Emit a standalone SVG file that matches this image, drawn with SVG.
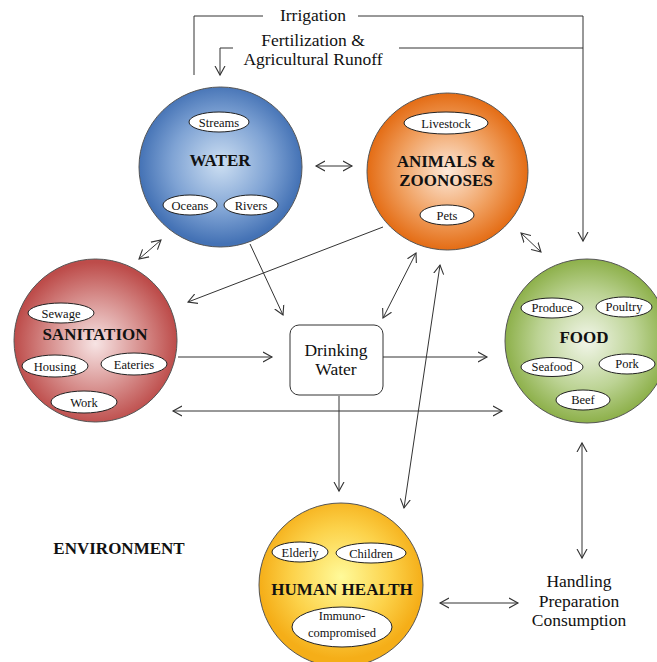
<svg xmlns="http://www.w3.org/2000/svg" width="657" height="662" viewBox="0 0 657 662">
<style>
.t{font-family:"Liberation Serif","Times New Roman",serif;fill:#111;text-anchor:middle}
.big{font-size:17.5px}
.title{font-size:17px;font-weight:bold}
.lab{font-size:12.5px}
.sub{fill:#fff;stroke:#222;stroke-width:1}
.ball{stroke:#555;stroke-width:1}
.c{fill:none;stroke:#333;stroke-width:1}
</style>
<defs>
<marker id="ah" markerUnits="userSpaceOnUse" markerWidth="12" markerHeight="12" refX="9" refY="5" orient="auto-start-reverse" viewBox="0 0 12 10">
<path d="M0,0 L9,5 L0,10" fill="none" stroke="#333" stroke-width="1.1"/>
</marker>
<radialGradient id="gWater" cx="50%" cy="48%" r="50%"><stop offset="0" stop-color="#cddff2"/><stop offset="0.6" stop-color="#7fa3d4"/><stop offset="1" stop-color="#4472b5"/></radialGradient>
<radialGradient id="gAnimal" cx="50%" cy="50%" r="50%"><stop offset="0" stop-color="#fde9da"/><stop offset="0.6" stop-color="#f0a060"/><stop offset="1" stop-color="#e46c14"/></radialGradient>
<radialGradient id="gSan" cx="50%" cy="52%" r="50%"><stop offset="0" stop-color="#f7e4e4"/><stop offset="0.6" stop-color="#d58a88"/><stop offset="1" stop-color="#bd4c4a"/></radialGradient>
<radialGradient id="gFood" cx="50%" cy="50%" r="50%"><stop offset="0" stop-color="#f2f6ea"/><stop offset="0.6" stop-color="#bcd394"/><stop offset="1" stop-color="#8db04a"/></radialGradient>
<radialGradient id="gHealth" cx="50%" cy="45%" r="50%"><stop offset="0" stop-color="#fffa9a"/><stop offset="0.6" stop-color="#fcd24a"/><stop offset="1" stop-color="#f5ae18"/></radialGradient>
</defs>
<rect width="657" height="662" fill="#fff"/>

<g id="connectors">
<polyline class="c" points="194,75 194,16 263,16"/>
<polyline class="c" points="358,16 583,16 583,241" marker-end="url(#ah)"/>
<polyline class="c" points="399,48 583,48"/>
<polyline class="c" points="233,48 220,48 220,75" marker-end="url(#ah)"/>
<line class="c" x1="316" y1="166" x2="352" y2="166" marker-start="url(#ah)" marker-end="url(#ah)"/>
<line class="c" x1="139" y1="259" x2="161" y2="240" marker-start="url(#ah)" marker-end="url(#ah)"/>
<line class="c" x1="521" y1="233" x2="541" y2="252" marker-start="url(#ah)" marker-end="url(#ah)"/>
<line class="c" x1="250" y1="244" x2="283" y2="315" marker-end="url(#ah)"/>
<line class="c" x1="383" y1="227" x2="188" y2="302" marker-end="url(#ah)"/>
<line class="c" x1="383" y1="318" x2="416" y2="253" marker-start="url(#ah)" marker-end="url(#ah)"/>
<line class="c" x1="440" y1="265" x2="404" y2="508" marker-start="url(#ah)" marker-end="url(#ah)"/>
<line class="c" x1="178" y1="357" x2="272" y2="357" marker-end="url(#ah)"/>
<line class="c" x1="383" y1="357" x2="487" y2="357" marker-end="url(#ah)"/>
<line class="c" x1="173" y1="411" x2="502" y2="411" marker-start="url(#ah)" marker-end="url(#ah)"/>
<line class="c" x1="339" y1="396" x2="339" y2="491" marker-end="url(#ah)"/>
<line class="c" x1="582" y1="443" x2="582" y2="558" marker-start="url(#ah)" marker-end="url(#ah)"/>
<line class="c" x1="440" y1="603" x2="518" y2="603" marker-start="url(#ah)" marker-end="url(#ah)"/>
</g>

<g id="labels">
<text class="t big" x="313" y="21">Irrigation</text>
<text class="t big" x="313" y="46">Fertilization &amp;</text>
<text class="t big" x="313" y="65">Agricultural Runoff</text>
<text class="t title" x="119" y="554">ENVIRONMENT</text>
</g>

<g id="water">
<ellipse class="ball" cx="220.5" cy="167" rx="81.5" ry="80" fill="url(#gWater)"/>
<ellipse class="sub" cx="219" cy="122" rx="30" ry="10"/>
<text class="t lab" x="219" y="126.5">Streams</text>
<text class="t title" x="220" y="166">WATER</text>
<ellipse class="sub" cx="190" cy="205" rx="27" ry="10"/>
<text class="t lab" x="190" y="209.5">Oceans</text>
<ellipse class="sub" cx="251" cy="205" rx="27" ry="10"/>
<text class="t lab" x="251" y="209.5">Rivers</text>
</g>

<g id="animals">
<ellipse class="ball" cx="447.5" cy="171.5" rx="80.5" ry="78.5" fill="url(#gAnimal)"/>
<ellipse class="sub" cx="446" cy="123" rx="42" ry="11"/>
<text class="t lab" x="446" y="127.5">Livestock</text>
<text class="t title" x="446" y="167">ANIMALS &amp;</text>
<text class="t title" x="446" y="186">ZOONOSES</text>
<ellipse class="sub" cx="447" cy="215" rx="27" ry="10"/>
<text class="t lab" x="447" y="219.5">Pets</text>
</g>

<g id="sanitation">
<ellipse class="ball" cx="95.5" cy="340.5" rx="81.5" ry="81.5" fill="url(#gSan)"/>
<ellipse class="sub" cx="61" cy="313" rx="33" ry="10"/>
<text class="t lab" x="61" y="317.5">Sewage</text>
<text class="t title" x="95" y="340">SANITATION</text>
<ellipse class="sub" cx="55" cy="366" rx="33" ry="11"/>
<text class="t lab" x="55" y="370.5">Housing</text>
<ellipse class="sub" cx="134" cy="364" rx="33" ry="11"/>
<text class="t lab" x="134" y="368.5">Eateries</text>
<ellipse class="sub" cx="84" cy="402" rx="33" ry="11"/>
<text class="t lab" x="84" y="406.5">Work</text>
</g>

<g id="drinking-water">
<rect x="290" y="325" width="93" height="70" rx="9" fill="#fff" stroke="#333" stroke-width="1"/>
<text class="t big" x="336" y="356">Drinking</text>
<text class="t big" x="336" y="375">Water</text>
</g>

<g id="food">
<ellipse class="ball" cx="587" cy="341" rx="82" ry="82" fill="url(#gFood)"/>
<ellipse class="sub" cx="552" cy="308" rx="31" ry="10"/>
<text class="t lab" x="552" y="312">Produce</text>
<ellipse class="sub" cx="624" cy="307" rx="28" ry="10"/>
<text class="t lab" x="624" y="311">Poultry</text>
<text class="t title" x="584" y="343">FOOD</text>
<ellipse class="sub" cx="552" cy="367" rx="31" ry="9.5"/>
<text class="t lab" x="552" y="371">Seafood</text>
<ellipse class="sub" cx="627" cy="364" rx="28" ry="10"/>
<text class="t lab" x="627" y="368">Pork</text>
<ellipse class="sub" cx="583" cy="400" rx="27" ry="10"/>
<text class="t lab" x="583" y="404">Beef</text>
</g>

<g id="human-health">
<ellipse class="ball" cx="341" cy="585" rx="82" ry="82" fill="url(#gHealth)"/>
<ellipse class="sub" cx="300" cy="552" rx="28" ry="10"/>
<text class="t lab" x="300" y="556.5">Elderly</text>
<ellipse class="sub" cx="371" cy="553" rx="35" ry="10"/>
<text class="t lab" x="371" y="557.5">Children</text>
<text class="t title" x="342" y="595">HUMAN HEALTH</text>
<ellipse class="sub" cx="342" cy="627" rx="50" ry="20"/>
<text class="t lab" x="342" y="620">Immuno-</text>
<text class="t lab" x="342" y="637">compromised</text>
</g>

<g id="handling">
<text class="t big" x="579" y="587">Handling</text>
<text class="t big" x="579" y="607">Preparation</text>
<text class="t big" x="579" y="626">Consumption</text>
</g>
</svg>
